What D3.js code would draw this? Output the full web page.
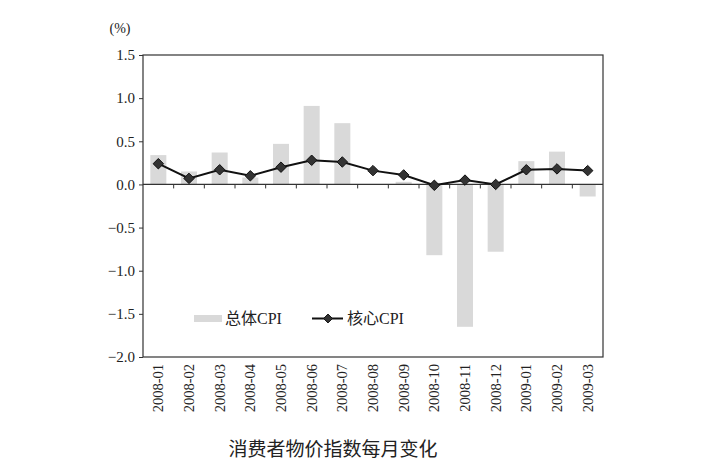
<!DOCTYPE html>
<meta charset="utf-8">
<style>
body { margin: 0; background: #fff; }
text { font-family: "Liberation Serif", "Noto Sans CJK SC", serif; fill: #222; }
.title { font-family: "Noto Sans CJK SC", sans-serif; }
</style>
<body>
<svg width="717" height="470"></svg>
<script src="https://cdn.jsdelivr.net/npm/d3@7"></script>
<script>
// data
var months = ["2008-01","2008-02","2008-03","2008-04","2008-05","2008-06","2008-07","2008-08",
              "2008-09","2008-10","2008-11","2008-12","2009-01","2009-02","2009-03"];
var totalCPI = [0.34, 0.15, 0.37, 0.08, 0.47, 0.91, 0.71, 0.00, 0.03, -0.82, -1.65, -0.78, 0.27, 0.38, -0.14];
var coreCPI  = [0.24, 0.07, 0.17, 0.10, 0.20, 0.28, 0.26, 0.16, 0.11, -0.01, 0.05, 0.00, 0.17, 0.18, 0.16];
var yTicks = [1.5, 1.0, 0.5, 0.0, -0.5, -1.0, -1.5, -2.0];

var svg = d3.select("svg");
var plotL = 143, plotR = 603, plotT = 55, plotB = 357;

var x = d3.scaleBand().domain(months).range([plotL, plotR]);
var y = d3.scaleLinear().domain([-2.0, 1.5]).range([plotB, plotT]);

// bars
svg.selectAll(".bar").data(totalCPI).enter().append("rect")
    .attr("x", (d, i) => x(months[i]) + x.bandwidth() / 2 - 8)
    .attr("width", 16)
    .attr("y", d => y(Math.max(0, d)))
    .attr("height", d => Math.abs(y(d) - y(0)))
    .attr("fill", "#d9d9d9");

// frame
svg.append("rect").attr("x", plotL).attr("y", plotT)
    .attr("width", plotR - plotL).attr("height", plotB - plotT)
    .attr("fill", "none").attr("stroke", "#333").attr("stroke-width", 1.2);

// zero line with ticks
svg.append("line").attr("x1", plotL).attr("x2", plotR)
    .attr("y1", y(0)).attr("y2", y(0)).attr("stroke", "#333").attr("stroke-width", 1.2);
svg.selectAll(".ztick").data(d3.range(1, months.length)).enter().append("line")
    .attr("x1", d => plotL + d * x.step()).attr("x2", d => plotL + d * x.step())
    .attr("y1", y(0)).attr("y2", y(0) + 4)
    .attr("stroke", "#333");

// y axis
var yAxis = svg.append("g").attr("transform", "translate(" + plotL + ",0)")
    .call(d3.axisLeft(y).tickValues(yTicks).tickFormat(d3.format(".1f")).tickSize(4).tickPadding(4));
yAxis.select(".domain").remove();
yAxis.selectAll("line").attr("stroke", "#333");
yAxis.selectAll("text").style("font-size", "15px").style("font-family", "Liberation Serif")
    .text(d => d3.format(".1f")(d).replace("-", "\u2212"));

svg.append("text").attr("x", 120).attr("y", 33).attr("text-anchor", "middle")
    .style("font-size", "14px").text("(%)");

// x labels
svg.selectAll(".xl").data(months).enter().append("text")
    .attr("transform", d => "translate(" + (x(d) + x.bandwidth() / 2 + 5) + "," + (plotB + 7) + ") rotate(-90)")
    .attr("text-anchor", "end")
    .style("font-size", "14.5px")
    .text(d => d);

// core CPI line
var line = d3.line().x((d, i) => x(months[i]) + x.bandwidth() / 2).y(d => y(d));
svg.append("path").datum(coreCPI).attr("d", line)
    .attr("fill", "none").attr("stroke", "#111").attr("stroke-width", 2);
var diamond = d3.symbol().type(d3.symbolDiamond2).size(70);
svg.selectAll(".pt").data(coreCPI).enter().append("path")
    .attr("d", diamond)
    .attr("transform", (d, i) => "translate(" + (x(months[i]) + x.bandwidth() / 2) + "," + y(d) + ")")
    .attr("fill", "#333").attr("stroke", "#111");

// legend
svg.append("rect").attr("x", 194).attr("y", 315).attr("width", 28).attr("height", 7).attr("fill", "#d9d9d9");
svg.append("text").attr("x", 225).attr("y", 324).style("font-size", "16px").text("总体CPI");
svg.append("line").attr("x1", 312).attr("x2", 343).attr("y1", 318.5).attr("y2", 318.5)
    .attr("stroke", "#111").attr("stroke-width", 2);
svg.append("path").attr("d", d3.symbol().type(d3.symbolDiamond2).size(50)).attr("transform", "translate(328,318.5)")
    .attr("fill", "#333").attr("stroke", "#111");
svg.append("text").attr("x", 347).attr("y", 324).style("font-size", "16px").text("核心CPI");

// title
svg.append("text").attr("class", "title").attr("x", 333).attr("y", 456)
    .attr("text-anchor", "middle").style("font-size", "19px").text("消费者物价指数每月变化");
</script>
</body>
